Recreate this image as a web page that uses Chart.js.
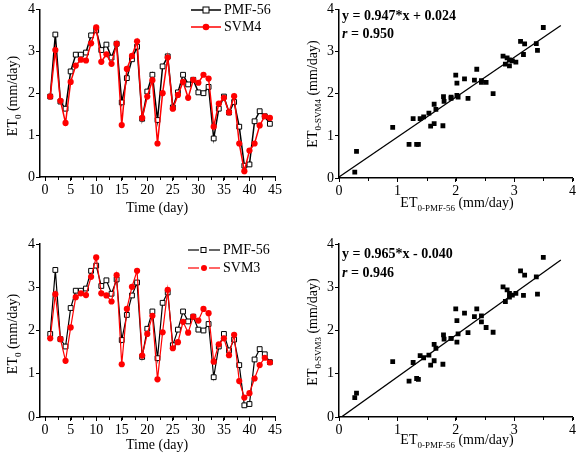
<!DOCTYPE html>
<html>
<head>
<meta charset="utf-8">
<script src="https://cdn.jsdelivr.net/npm/chart.js@4.4.0/dist/chart.umd.min.js"></script>
<style>
  body { margin: 0; background: #fff; }
  #wrap { position: relative; width: 577px; height: 453px; background: #fff; overflow: hidden; font-family: 'Liberation Serif', 'Times New Roman', serif; color: #000; }
  .panel { position: absolute; }
  .txt { position: absolute; white-space: nowrap; font-size: 14px; line-height: 1; }
  .rot { transform: translate(-50%, -50%) rotate(-90deg); }
  .ctr { transform: translate(-50%, -50%); }
  .txt sub { font-size: 9px; vertical-align: -4px; }
  .eq { font-weight: bold; }
  .leg { position: absolute; font-size: 14px; line-height: 1; display: flex; align-items: center; }
  .leg svg { margin-right: 3px; }
</style>
</head>
<body>
<div id="wrap">
  <div class="panel" style="left:0;top:0"><canvas id="ts4" width="290" height="222"></canvas></div>
  <div class="panel" style="left:0;top:228px"><canvas id="ts3" width="290" height="225"></canvas></div>
  <div class="panel" style="left:290px;top:0"><canvas id="sc4" width="287" height="222"></canvas></div>
  <div class="panel" style="left:290px;top:228px"><canvas id="sc3" width="287" height="225"></canvas></div>

  <!-- axis titles -->
  <div class="txt rot" style="left:14px;top:96px">ET<sub>0</sub> (mm/day)</div>
  <div class="txt ctr" style="left:157px;top:208px">Time (day)</div>
  <div class="txt rot" style="left:14px;top:334px">ET<sub>0</sub> (mm/day)</div>
  <div class="txt ctr" style="left:157px;top:445px">Time (day)</div>
  <div class="txt rot" style="left:314px;top:94px">ET<sub>0-SVM4</sub> (mm/day)</div>
  <div class="txt ctr" style="left:457px;top:204px">ET<sub>0-PMF-56</sub> (mm/day)</div>
  <div class="txt rot" style="left:314px;top:332px">ET<sub>0-SVM3</sub> (mm/day)</div>
  <div class="txt ctr" style="left:457px;top:441px">ET<sub>0-PMF-56</sub> (mm/day)</div>

  <!-- regression text -->
  <div class="txt eq" style="left:342px;top:9px">y = 0.947*x + 0.024</div>
  <div class="txt eq" style="left:342px;top:27px"><i>r</i> = 0.950</div>
  <div class="txt eq" style="left:342px;top:247px">y = 0.965*x - 0.040</div>
  <div class="txt eq" style="left:342px;top:266px"><i>r</i> = 0.946</div>

  <!-- legends -->
  <div class="leg" style="left:191px;top:3px">
    <svg width="30" height="12"><line x1="0" y1="6" x2="30" y2="6" stroke="#000" stroke-width="1.5"/><rect x="12" y="3" width="6" height="6" fill="#fff" stroke="#000" stroke-width="1"/></svg>PMF-56</div>
  <div class="leg" style="left:191px;top:20px">
    <svg width="30" height="12"><line x1="0" y1="6" x2="30" y2="6" stroke="#ff0000" stroke-width="1.5"/><circle cx="15" cy="6" r="3.3" fill="#ff0000"/></svg>SVM4</div>
  <div class="leg" style="left:188px;top:243px">
    <svg width="32" height="12"><line x1="0" y1="6" x2="11" y2="6" stroke="#000" stroke-width="1.2"/><line x1="21" y1="6" x2="32" y2="6" stroke="#000" stroke-width="1.2"/><rect x="13" y="3.5" width="5" height="5" fill="#fff" stroke="#000" stroke-width="1"/></svg>PMF-56</div>
  <div class="leg" style="left:188px;top:261px">
    <svg width="32" height="12"><line x1="0" y1="6" x2="11" y2="6" stroke="#ff0000" stroke-width="1.2"/><line x1="21" y1="6" x2="32" y2="6" stroke="#ff0000" stroke-width="1.2"/><circle cx="16" cy="6" r="3" fill="#ff0000"/></svg>SVM3</div>
</div>

<script>
// ---- data ----
const days = [1,2,3,4,5,6,7,8,9,10,11,12,13,14,15,16,17,18,19,20,21,22,
  23,24,25,26,27,28,29,30,31,32,33,34,35,36,37,38,39,40,41,42,43,44];
const pmf56 = [1.92,3.40,1.80,1.63,2.52,2.92,2.92,2.97,3.38,3.50,3.03,3.16,2.85,3.18,1.78,2.36,2.81,3.11,1.39,2.04,2.44,1.36,
  2.64,2.88,1.66,2.02,2.44,2.21,2.32,2.02,2.00,2.15,0.92,1.63,1.92,1.54,1.79,1.20,0.27,0.30,1.33,1.57,1.45,1.27];
const svm4 = [1.92,3.03,1.82,1.29,2.27,2.66,2.80,2.78,3.19,3.57,2.75,2.93,2.70,3.18,1.24,2.58,2.89,3.24,1.41,1.92,2.31,0.80,
  2.00,2.85,1.63,1.96,2.27,1.89,2.32,2.25,2.44,2.35,1.20,1.75,1.89,1.54,1.93,0.80,0.14,0.63,0.80,1.23,1.45,1.41];
const svm3 = [1.82,2.84,1.80,1.30,2.07,2.77,2.86,2.82,3.24,3.69,2.86,2.81,2.67,3.28,1.22,2.50,3.01,3.38,1.42,1.92,2.34,0.87,
  1.96,2.94,1.59,1.73,2.20,1.95,2.32,2.23,2.50,2.40,1.28,1.68,1.82,1.43,1.90,0.83,0.45,0.55,0.89,1.20,1.37,1.26];

// fitted lines (end points of the drawn regression lines)
const fitX = [0, 3.8];
const fit4Y = [0.024, 3.62];
const fit3Y = [-0.040, 3.63];

const timeTicks = [0,5,10,15,20,25,30,35,40,45];
const etTicks = [0,1,2,3,4];

const FONT = { family: "'Liberation Serif', 'Times New Roman', serif", size: 14 };

// small outward minor ticks between the labelled ones
const minorTicks = {
  id: 'minorTicks',
  afterDraw(chart, args, opts) {
    const ctx = chart.ctx;
    ctx.save();
    ctx.strokeStyle = '#000';
    ctx.lineWidth = 1;
    ['x', 'y'].forEach(k => {
      const step = opts[k];
      if (!step) return;
      const s = chart.scales[k];
      for (let v = Math.ceil(s.min / step) * step; v <= s.max + 1e-9; v += step) {
        const p = Math.round(s.getPixelForValue(v)) + 0.5;
        ctx.beginPath();
        if (k === 'x') { ctx.moveTo(p, s.top); ctx.lineTo(p, s.top + 3); }
        else { ctx.moveTo(s.right, p); ctx.lineTo(s.right - 3, p); }
        ctx.stroke();
      }
    });
    ctx.restore();
  }
};

function scale(min, max, tickVals, fitSize, isX) {
  return {
    type: 'linear',
    min: min,
    max: max,
    afterBuildTicks: s => { s.ticks = tickVals.map(v => ({ value: v })); },
    afterFit: s => { if (isX) s.height = fitSize; else s.width = fitSize; },
    grid: { drawOnChartArea: false, color: '#000', tickLength: 4, lineWidth: 1 },
    border: { color: '#000', width: 1.5 },
    ticks: { color: '#000', font: FONT, padding: 1, maxRotation: 0, autoSkip: false }
  };
}

function pairs(xs, ys) {
  return xs.map((x, i) => ({ x: x, y: ys[i] }));
}

function timeChart(id, model, name, pad, xH, lw) {
  new Chart(document.getElementById(id), {
    type: 'line',
    data: {
      datasets: [{
        label: name,
        data: pairs(days, model),
        borderColor: '#ff0000',
        backgroundColor: '#ff0000',
        borderWidth: lw,
        pointStyle: 'circle',
        pointRadius: 3.1,
        pointBorderWidth: 0,
        tension: 0,
        order: 0
      }, {
        label: 'PMF-56',
        data: pairs(days, pmf56),
        borderColor: '#000',
        backgroundColor: '#fff',
        borderWidth: lw,
        pointStyle: 'rect',
        pointRadius: 3.4,
        pointBorderWidth: 1,
        tension: 0,
        order: 1
      }]
    },
    options: {
      responsive: false,
      animation: false,
      devicePixelRatio: 1,
      layout: { autoPadding: false, padding: { top: pad, right: 15, left: 0, bottom: 0 } },
      scales: {
        x: scale(-1, 45, timeTicks, xH, true),
        y: scale(0, 4, etTicks, 40, false)
      },
      plugins: {
        legend: { display: false },
        tooltip: { enabled: false },
        minorTicks: { x: 2.5 }
      }
    },
    plugins: [minorTicks]
  });
}

function scatterChart(id, model, fitY, pad, xH) {
  new Chart(document.getElementById(id), {
    type: 'scatter',
    data: {
      datasets: [{
        label: 'fit',
        type: 'line',
        data: pairs(fitX, fitY),
        borderColor: '#000',
        borderWidth: 1.3,
        pointRadius: 0,
        tension: 0
      }, {
        label: 'points',
        data: pairs(pmf56, model),
        backgroundColor: '#000',
        borderColor: '#000',
        pointStyle: 'rect',
        pointRadius: 3.4,
        pointBorderWidth: 0
      }]
    },
    options: {
      responsive: false,
      animation: false,
      devicePixelRatio: 1,
      layout: { autoPadding: false, padding: { top: pad, right: 3, left: 0, bottom: 0 } },
      scales: {
        x: scale(0, 4, etTicks, xH, true),
        y: scale(0, 4, etTicks, 49, false)
      },
      plugins: {
        legend: { display: false },
        tooltip: { enabled: false },
        minorTicks: { x: 0.5 }
      }
    },
    plugins: [minorTicks]
  });
}

timeChart('ts4', svm4, 'SVM4', 6, 45, 1.5);
timeChart('ts3', svm3, 'SVM3', 16, 36, 1.2);
scatterChart('sc4', svm4, fit4Y, 6, 44);
scatterChart('sc3', svm3, fit3Y, 16, 36);
</script>
</body>
</html>
